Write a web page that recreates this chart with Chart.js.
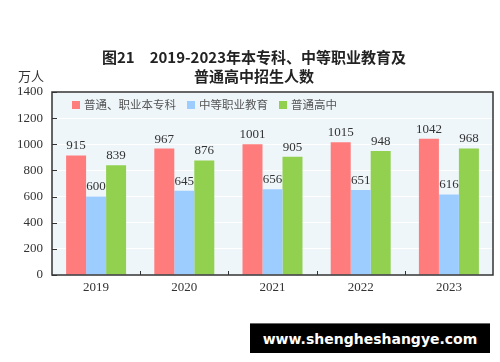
<!DOCTYPE html>
<html><head><meta charset="utf-8">
<script src="https://cdn.jsdelivr.net/npm/chart.js@4"></script>
<style>
html,body{margin:0;padding:0;background:#fff;}
#wrap{position:relative;width:500px;height:362px;}
#wm{position:absolute;left:250px;top:323px;width:240px;height:30px;background:#000;border-top:1px solid #666;color:#fff;font:bold 14px "DejaVu Sans",sans-serif;display:flex;align-items:center;justify-content:center;box-sizing:border-box;}
</style></head>
<body><div id="wrap"><canvas id="c" width="500" height="362"></canvas><div id="wm">www.shengheshangye.com</div></div>
<script>
const categories = ['2019','2020','2021','2022','2023'];
const seriesNames = ['普通、职业本专科','中等职业教育','普通高中'];
const higherEd = [915, 967, 1001, 1015, 1042];
const vocational = [600, 645, 656, 651, 616];
const highSchool = [839, 876, 905, 948, 968];
const yTicks = [0,200,400,600,800,1000,1200,1400];
const colors = ['#FF7C7C','#9DCCFF','#92D050'];
const titleLines = ['图21　2019-2023年本专科、中等职业教育及','普通高中招生人数'];
const unitLabel = '万人';

const serif = '"Liberation Serif","DejaVu Serif",serif';
const cjk = '"Noto Sans CJK SC","Noto Sans",sans-serif';

const deco = {
  id:'deco',
  beforeDraw(chart){
    const {ctx, chartArea:a} = chart;
    ctx.save();
    ctx.fillStyle = '#EEF6FA';
    ctx.fillRect(a.left, a.top, a.right-a.left, a.bottom-a.top);
    ctx.restore();
  },
  afterDatasetsDraw(chart){
    const {ctx, chartArea:a} = chart;
    ctx.save();
    ctx.font = '13px '+serif;
    ctx.fillStyle = '#333';
    ctx.textAlign = 'center';
    ctx.textBaseline = 'bottom';
    chart.data.datasets.forEach((ds,i)=>{
      chart.getDatasetMeta(i).data.forEach((bar,j)=>{
        ctx.fillText(String(ds.data[j]), bar.x, bar.y-3);
      });
    });
    ctx.strokeStyle = '#333';
    ctx.lineWidth = 1.5;
    ctx.strokeRect(a.left, a.top, a.right-a.left, a.bottom-a.top);
    ctx.lineWidth = 1;
    const ys = chart.scales.y;
    yTicks.forEach(v=>{
      const y = Math.round(ys.getPixelForValue(v))+0.5;
      ctx.beginPath(); ctx.moveTo(a.left, y); ctx.lineTo(a.left+5, y); ctx.stroke();
    });
    const xs = chart.scales.x;
    for(let i=1;i<categories.length;i++){
      const x = Math.round((xs.getPixelForValue(i-1)+xs.getPixelForValue(i))/2)+0.5;
      ctx.beginPath(); ctx.moveTo(x, a.bottom); ctx.lineTo(x, a.bottom-4); ctx.stroke();
    }
    ctx.textAlign = 'left';
    ctx.textBaseline = 'middle';
    ctx.font = '11.5px '+cjk;
    let x = a.left+20;
    const ly = a.top+13;
    seriesNames.forEach((n,i)=>{
      ctx.fillStyle = colors[i];
      ctx.fillRect(x, ly-4, 8, 8);
      ctx.fillStyle = '#555';
      ctx.fillText(n, x+12, ly);
      x += 12 + ctx.measureText(n).width + 11;
    });
    ctx.fillStyle = '#222';
    ctx.textAlign = 'center';
    ctx.font = '600 15px '+cjk;
    ctx.fillText(titleLines[0], 254, 57);
    ctx.fillText(titleLines[1], 254, 76);
    ctx.font = '13px '+cjk;
    ctx.fillStyle = '#333';
    ctx.fillText(unitLabel, 31, 76);
    ctx.restore();
  }
};

new Chart(document.getElementById('c'), {
  type:'bar',
  data:{
    labels: categories,
    datasets:[
      {label:seriesNames[0], data:higherEd, backgroundColor:colors[0]},
      {label:seriesNames[1], data:vocational, backgroundColor:colors[1]},
      {label:seriesNames[2], data:highSchool, backgroundColor:colors[2]}
    ]
  },
  options:{
    responsive:false,
    animation:false,
    devicePixelRatio:1,
    layout:{padding:{top:92,right:7,left:0,bottom:0}},
    datasets:{bar:{categoryPercentage:0.68, barPercentage:1.0, borderWidth:0}},
    plugins:{legend:{display:false}, title:{display:false}, tooltip:{enabled:false}},
    scales:{
      x:{
        grid:{display:false, drawTicks:false},
        border:{display:false},
        ticks:{font:{family:serif,size:13}, color:'#333', padding:5},
        afterFit(s){ s.height = 87; }
      },
      y:{
        min:0, max:1400,
        afterBuildTicks(s){ s.ticks = yTicks.map(v=>({value:v})); },
        grid:{color:'#FFFFFF', lineWidth:1, drawTicks:false},
        border:{display:false},
        ticks:{font:{family:serif,size:13}, color:'#333', padding:9, callback:(v)=>String(v)},
        afterFit(s){ s.width = 52; }
      }
    }
  },
  plugins:[deco]
});
</script></body></html>
